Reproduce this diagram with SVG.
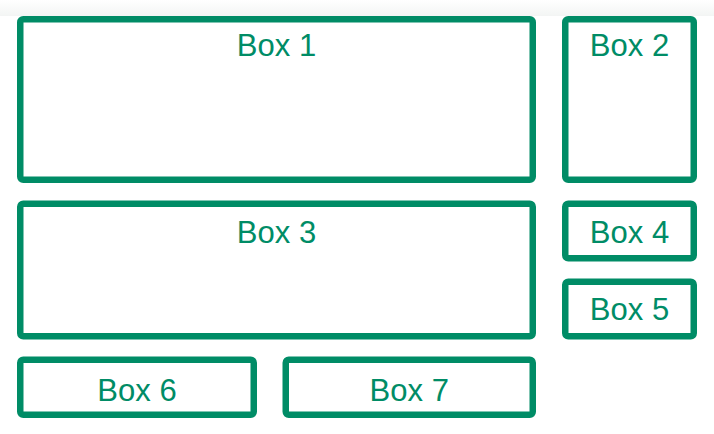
<svg xmlns="http://www.w3.org/2000/svg" width="714" height="434" viewBox="0 0 714 434">
  <defs>
    <linearGradient id="topband" x1="0" y1="0" x2="0" y2="1">
      <stop offset="0" stop-color="#ffffff"/>
      <stop offset="1" stop-color="#f3f5f4"/>
    </linearGradient>
    <style>
      .box { fill: #ffffff; stroke: #008c66; stroke-width: 6.5; }
      .lbl { font-family: "Liberation Sans", Arial, sans-serif; font-size: 31px; fill: #008c66; text-anchor: middle; }
    </style>
  </defs>
  <rect x="0" y="0" width="714" height="434" fill="#ffffff"/>
  <rect x="0" y="0" width="714" height="16" fill="url(#topband)"/>
  <g id="box1">
    <rect class="box" x="20.25" y="19.25" width="512.5" height="160.5" rx="3"/>
    <text class="lbl" x="276.5" y="56">Box 1</text>
  </g>
  <g id="box2">
    <rect class="box" x="565.25" y="19.25" width="128.5" height="160.5" rx="3"/>
    <text class="lbl" x="629.5" y="55.5">Box 2</text>
  </g>
  <g id="box3">
    <rect class="box" x="20.25" y="203.75" width="512.5" height="132.5" rx="3"/>
    <text class="lbl" x="276.5" y="242.5">Box 3</text>
  </g>
  <g id="box4">
    <rect class="box" x="565.25" y="203.75" width="128.5" height="54.5" rx="3"/>
    <text class="lbl" x="629.5" y="242.5">Box 4</text>
  </g>
  <g id="box5">
    <rect class="box" x="565.25" y="281.75" width="128.5" height="54.5" rx="3"/>
    <text class="lbl" x="629.5" y="320">Box 5</text>
  </g>
  <g id="box6">
    <rect class="box" x="20.25" y="359.75" width="233.5" height="55" rx="3"/>
    <text class="lbl" x="137" y="400.5">Box 6</text>
  </g>
  <g id="box7">
    <rect class="box" x="285.75" y="359.75" width="247" height="55" rx="3"/>
    <text class="lbl" x="409.25" y="400.5">Box 7</text>
  </g>
  <g id="connectors"/>
</svg>
